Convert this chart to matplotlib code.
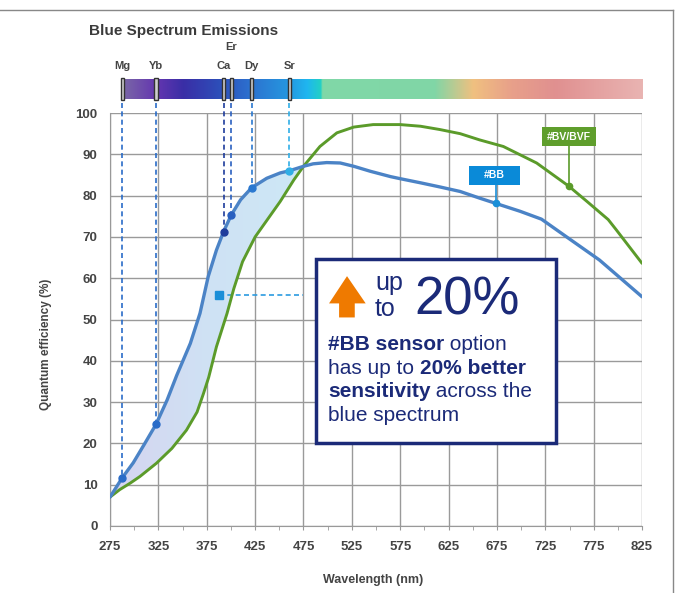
import numpy as np
import matplotlib
matplotlib.use('Agg')
from matplotlib import pyplot as plt
from matplotlib.colors import LinearSegmentedColormap
from matplotlib.patches import Rectangle, Polygon
from matplotlib.lines import Line2D

matplotlib.rcParams['font.family'] = ['Liberation Sans', 'DejaVu Sans']

# quantum efficiency curves
bb_nm = [275, 287.7, 299, 311, 322.5, 334, 344, 358, 368, 376.5, 385, 392.4, 400.3, 410,
         421.4, 437, 451, 460.2, 475, 485, 499, 513, 527, 544, 565, 575, 596, 616, 637, 657,
         674, 699, 721, 747, 781, 825]
bb_qe = [7.0, 11.7, 15.3, 20.0, 24.6, 30.5, 36.5, 44.2, 51.5, 60.4, 66.8, 71.3, 75.3, 79.0,
         81.9, 84.2, 85.5, 86.0, 87.1, 87.7, 88.0, 87.9, 87.1, 85.9, 84.6, 84.1, 83.1, 82.1, 81.0, 79.4,
         78.1, 76.2, 74.3, 70.0, 64.4, 55.5]
bv_nm = [275, 285, 296, 306, 323, 339, 354, 365, 371.5, 377, 385, 396, 403, 412, 425, 451,
         465, 475, 492, 509.5, 527, 547, 575, 596, 616, 637, 657, 681.6, 716, 749.2, 768, 790,
         798.4, 825]
bv_qe = [7.0, 8.8, 10.4, 12.0, 15.2, 18.8, 23.2, 27.6, 32.0, 36.0, 43.4, 51.5, 57.5, 64.0, 70.0, 78.6,
         83.8, 87.1, 91.9, 95.2, 96.6, 97.2, 97.2, 96.8, 96.0, 95.0, 93.5, 91.9, 87.9, 82.3, 78.6, 74.2,
         71.7, 63.6]

# emission lines
elements = ['Mg', 'Yb', 'Ca', 'Er', 'Dy', 'Sr']
element_nm = [287.7, 322.5, 392.4, 400.3, 421.4, 460.2]
element_qe = [11.7, 24.6, 71.3, 75.3, 81.9, 86.0]
element_colors = ['#2a6cc8', '#2a6cc8', '#1e3c9c', '#2a60c0', '#2a78d0', '#30aee6']

xticks = np.arange(275, 826, 50)
yticks = np.arange(0, 101, 10)

# spectrum bar colours
spec_nm = [286, 322, 350, 385, 420, 460, 478, 492, 494, 610, 650, 690, 735, 825]
spec_col = ['#7b6aa6', '#6436b0', '#3a2ea6', '#2e4cb8', '#2c72d0', '#2598e0', '#1fb6f0',
            '#22d0c6', '#80d8a8', '#80d6a6', '#f0c080', '#e8a08a', '#e09090', '#e9b4b2']

navy = '#1b2a78'
bb_color = '#4b83c6'
bv_color = '#5b9b2a'

fig = plt.figure(figsize=(6.8, 5.93), dpi=100)
ax = fig.add_axes([0.1618, 0.1130, 0.7824, 0.6964])

# gradient fill between the curves
bb_x = np.array(bb_nm); bb_y = np.array(bb_qe)
bv_x = np.array(bv_nm); bv_y = np.array(bv_qe)
mb = bb_x <= 475
mg = bv_x <= 475
poly_x = np.r_[bb_x[mb], bv_x[mg][::-1]]
poly_y = np.r_[bb_y[mb], bv_y[mg][::-1]]
poly = Polygon(np.c_[poly_x, poly_y], closed=True, facecolor='none', edgecolor='none')
ax.add_patch(poly)
fill_cmap = LinearSegmentedColormap.from_list('fill', ['#d6d4f0', '#cfe2f4', '#cde8f6'])
im = ax.imshow(np.linspace(0, 1, 256).reshape(1, -1), extent=[275, 480, 0, 90],
               cmap=fill_cmap, aspect='auto', zorder=1)
im.set_clip_path(poly)

ax.plot(bv_nm, bv_qe, color=bv_color, lw=2.1, zorder=4, solid_capstyle='round',
        solid_joinstyle='round')
ax.plot(bb_nm, bb_qe, color=bb_color, lw=2.4, zorder=4, solid_capstyle='round',
        solid_joinstyle='round')

# dashed drop lines from the emission bar
for nm, qe, c in zip(element_nm, element_qe, element_colors):
    ax.plot([nm, nm], [102.4, qe], ls=(0, (3, 2)), color=c, lw=1.2, clip_on=False, zorder=3)
    ax.plot(nm, qe, 'o', ms=5, color=c, zorder=5)

# pointer to the info box
ax.plot([387.6, 474.5], [55.9, 55.9], ls=(0, (3, 2)), color='#2b9be0', lw=1.2, zorder=3)
ax.plot(387.6, 55.9, 's', ms=5.5, color='#1a8fd8', zorder=5)

# info box
ax.add_patch(Rectangle((487.8, 20.1), 247.9, 44.5, facecolor='white', edgecolor=navy,
                       lw=2.5, zorder=6))
arrow = [(501.4, 53.9), (520, 60.5), (539.3, 53.9), (528, 53.9), (528, 50.5),
         (511.8, 50.5), (511.8, 53.9)]
ax.add_patch(Polygon(arrow, closed=True, facecolor='#ef7a00', edgecolor='none', zorder=7))
ax.text(548.8, 57.1, 'up', fontsize=18, color=navy, va='baseline', zorder=7)
ax.text(548.8, 50.8, 'to', fontsize=18, color=navy, va='baseline', zorder=7)
ax.text(589.5, 51.1, '20%', fontsize=38, color=navy, va='baseline', zorder=7)

lines = [
    [('#BB sensor', 'bold'), (' option', 'normal')],
    [('has up to ', 'normal'), ('20% better', 'bold')],
    [('sensitivity', 'bold'), (' across the', 'normal')],
    [('blue spectrum', 'normal')],
]
baselines = [42.6, 36.8, 31.2, 25.5]
for parts, yb in zip(lines, baselines):
    prev = None
    for s, w in parts:
        if prev is None:
            prev = ax.text(500.2, yb, s, fontsize=15, weight=w, color=navy,
                           va='baseline', zorder=7)
        else:
            prev = ax.annotate(s, xy=(1, 0), xycoords=prev, fontsize=15, weight=w,
                               color=navy, va='bottom', ha='left', zorder=7)

# series labels
ax.plot([674, 674], [82.6, 78.1], color='#1a8fd8', lw=1.2, zorder=5)
ax.plot(674, 78.1, 'o', ms=4.5, color='#1a8fd8', zorder=5)
ax.add_patch(Rectangle((645.9, 82.6), 53.4, 4.6, facecolor='#0a8ad8', edgecolor='none', zorder=6))
ax.text(672.6, 84.9, '#BB', color='white', weight='bold', fontsize=7.5,
        ha='center', va='center', zorder=7)
ax.plot([749.2, 749.2], [92.1, 82.3], color=bv_color, lw=1.2, zorder=5)
ax.plot(749.2, 82.3, 'o', ms=4.5, color=bv_color, zorder=5)
ax.add_patch(Rectangle((721.5, 92.1), 56.2, 4.4, facecolor='#5f9e2c', edgecolor='none', zorder=6))
ax.text(749.6, 94.3, '#BV/BVF', color='white', weight='bold', fontsize=7.5,
        ha='center', va='center', zorder=7)

ax.set_xlim(275, 825)
ax.set_ylim(0, 100)
ax.set_xticks(xticks)
ax.set_xticks(np.arange(300, 801, 50), minor=True)
ax.set_yticks(yticks)
ax.grid(True, which='major', color='#9a9a9a', lw=1)
ax.set_axisbelow(True)
for side in ['top', 'right']:
    ax.spines[side].set_visible(False)
for side in ['left', 'bottom']:
    ax.spines[side].set_color('#999999')
ax.tick_params(axis='y', length=0, pad=9, labelsize=9.5, labelcolor='#444444')
ax.tick_params(axis='x', which='both', length=3, color='#999999', pad=8,
               labelsize=9.5, labelcolor='#444444')
for lab in ax.get_xticklabels() + ax.get_yticklabels():
    lab.set_fontweight('bold')

fig.text(45.7 / 680, 1 - 344 / 593, 'Quantum efficiency (%)', rotation=90, fontsize=8.5,
         weight='bold', color='#444444', ha='center', va='center')
fig.text(373 / 680, 1 - 580 / 593, 'Wavelength (nm)', fontsize=9, weight='bold',
         color='#444444', ha='center', va='center')

# emission spectrum bar
bar = fig.add_axes([0.1618, 1 - 99 / 593, 0.7824, 20 / 593])
pos = [(v - spec_nm[0]) / (spec_nm[-1] - spec_nm[0]) for v in spec_nm]
spec_cmap = LinearSegmentedColormap.from_list('spec', list(zip(pos, spec_col)), N=512)
bar.imshow(np.linspace(0, 1, 512).reshape(1, -1), extent=[spec_nm[0], spec_nm[-1], 0, 1],
           cmap=spec_cmap, aspect='auto')
bar.set_xlim(275, 825)
bar.set_ylim(0, 1)
bar.axis('off')
for name, nm in zip(elements, element_nm):
    bar.add_patch(Rectangle((nm - 1.7, -0.05), 3.4, 1.1, facecolor='#cfcfcf',
                            edgecolor='#333333', lw=1, clip_on=False))
    ly = 2.585 if name == 'Er' else 1.665
    bar.text(nm, ly, name, fontsize=8, weight='bold', color='#444444',
             ha='center', va='center')

fig.text(89 / 680, 1 - 30.5 / 593, 'Blue Spectrum Emissions', fontsize=11, weight='bold',
         color='#3b3b3b', va='center')

# page frame
fig.add_artist(Line2D([0, 673 / 680], [1 - 10 / 593] * 2, transform=fig.transFigure,
                      color='#888888', lw=1))
fig.add_artist(Line2D([673 / 680] * 2, [0, 1 - 10 / 593], transform=fig.transFigure,
                      color='#888888', lw=1))

fig.savefig('out.png', dpi=100)
